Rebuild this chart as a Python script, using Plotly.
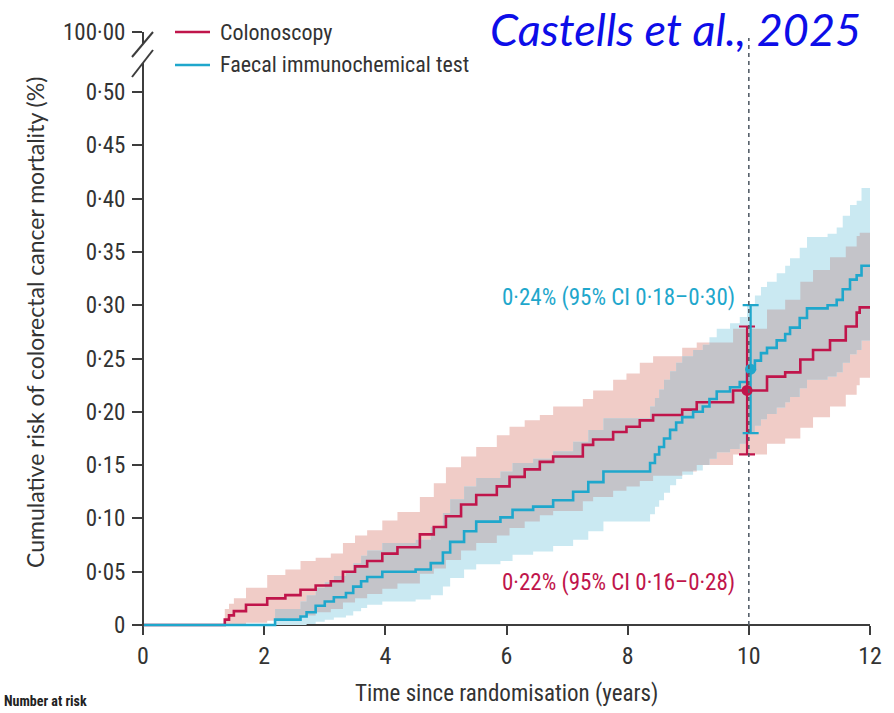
import numpy as np
import plotly.graph_objects as go

# ---- Kaplan-Meier style cumulative risk (%) by study arm ----
t_col = [0, 1.35, 1.42, 1.5, 1.7, 2.05, 2.35, 2.6, 2.85, 3.1, 3.3, 3.5, 3.7, 3.95, 4.2,
         4.57, 4.8, 5.0, 5.25, 5.5, 5.84, 6.05, 6.3, 6.55, 6.77, 7.26, 7.43, 7.76, 7.98,
         8.2, 8.42, 8.9, 9.14, 9.74, 10.3, 10.6, 10.85, 11.06, 11.34, 11.6, 11.78, 11.83, 12.0]
risk_col = [0, 0.005, 0.009, 0.013, 0.019, 0.025, 0.028, 0.033, 0.037, 0.041, 0.050, 0.055,
            0.060, 0.067, 0.073, 0.085, 0.092, 0.102, 0.113, 0.122, 0.130, 0.139, 0.146,
            0.153, 0.158, 0.169, 0.174, 0.181, 0.186, 0.192, 0.197, 0.202, 0.209, 0.220,
            0.233, 0.237, 0.249, 0.258, 0.267, 0.280, 0.293, 0.298, 0.298]
lo_col = [0, 0, 0, 0, 0.002, 0.004, 0.006, 0.009, 0.012, 0.015, 0.021, 0.025, 0.029, 0.034,
          0.039, 0.048, 0.053, 0.061, 0.070, 0.077, 0.084, 0.091, 0.097, 0.103, 0.107, 0.116,
          0.120, 0.126, 0.130, 0.135, 0.140, 0.144, 0.150, 0.160, 0.170, 0.175, 0.185, 0.195,
          0.205, 0.216, 0.225, 0.232, 0.232]
up_col = [0, 0.015, 0.020, 0.025, 0.035, 0.047, 0.052, 0.060, 0.063, 0.067, 0.077, 0.084,
          0.089, 0.098, 0.106, 0.120, 0.133, 0.148, 0.158, 0.167, 0.178, 0.186, 0.192, 0.197,
          0.205, 0.212, 0.220, 0.230, 0.236, 0.246, 0.252, 0.260, 0.265, 0.278, 0.296, 0.305,
          0.322, 0.333, 0.345, 0.355, 0.365, 0.368, 0.368]

t_fit = [0, 2.18, 2.6, 2.7, 2.85, 3.0, 3.15, 3.35, 3.47, 3.6, 3.7, 3.95, 4.5, 4.75, 4.95,
         5.07, 5.3, 5.5, 5.9, 6.1, 6.44, 6.77, 7.1, 7.35, 7.6, 8.37, 8.45, 8.52, 8.6, 8.7,
         8.8, 8.9, 9.08, 9.24, 9.35, 9.47, 9.69, 9.85, 9.97, 10.1, 10.2, 10.3, 10.46, 10.6,
         10.68, 10.84, 10.96, 11.3, 11.45, 11.55, 11.67, 11.78, 11.86, 12.0]
risk_fit = [0, 0.005, 0.008, 0.012, 0.018, 0.022, 0.026, 0.030, 0.036, 0.041, 0.045, 0.050,
            0.052, 0.058, 0.068, 0.078, 0.088, 0.097, 0.101, 0.108, 0.111, 0.117, 0.125,
            0.134, 0.144, 0.152, 0.160, 0.167, 0.175, 0.183, 0.190, 0.195, 0.200, 0.205,
            0.212, 0.219, 0.223, 0.228, 0.240, 0.248, 0.255, 0.260, 0.267, 0.273, 0.279,
            0.288, 0.297, 0.300, 0.305, 0.315, 0.324, 0.328, 0.337, 0.337]
lo_fit = [0, 0, 0, 0.001, 0.003, 0.005, 0.007, 0.009, 0.013, 0.016, 0.019, 0.022, 0.024,
          0.028, 0.036, 0.044, 0.052, 0.057, 0.060, 0.066, 0.069, 0.074, 0.080, 0.088,
          0.097, 0.104, 0.111, 0.117, 0.124, 0.131, 0.137, 0.141, 0.145, 0.150, 0.156,
          0.162, 0.165, 0.170, 0.180, 0.187, 0.193, 0.198, 0.204, 0.209, 0.214, 0.222,
          0.230, 0.233, 0.237, 0.246, 0.254, 0.258, 0.267, 0.267]
up_fit = [0, 0.015, 0.022, 0.028, 0.035, 0.040, 0.046, 0.051, 0.058, 0.065, 0.070, 0.077,
          0.080, 0.092, 0.105, 0.118, 0.130, 0.138, 0.144, 0.152, 0.156, 0.163, 0.172,
          0.183, 0.194, 0.205, 0.213, 0.221, 0.230, 0.238, 0.246, 0.252, 0.258, 0.263,
          0.270, 0.278, 0.283, 0.289, 0.300, 0.309, 0.317, 0.322, 0.330, 0.337, 0.344,
          0.354, 0.364, 0.367, 0.373, 0.384, 0.394, 0.398, 0.410, 0.410]

# 10-year estimates with 95% CI
t_est = 10
est_col, ci_col = 0.22, (0.16, 0.28)
est_fit, ci_fit = 0.24, (0.18, 0.30)

series_names = ["Colonoscopy", "Faecal immunochemical test"]
x_ticks = [0, 2, 4, 6, 8, 10, 12]
y_ticks = [0, 0.05, 0.10, 0.15, 0.20, 0.25, 0.30, 0.35, 0.40, 0.45, 0.50]
y_tick_text = ["0", "0·05", "0·10", "0·15", "0·20", "0·25", "0·30", "0·35", "0·40",
               "0·45", "0·50"]
broken_top_text = "100·00"

# ---- styling ----
RED = "#c0154b"
BLUE = "#1fa7cc"
PINK_BAND = "rgb(240,204,199)"
BLUE_BAND = "rgb(202,233,242)"
GREY_BAND = "rgb(196,196,201)"
AXIS = "#3d3d3d"
TEXT = "#333333"
NARROW = "Liberation Sans Narrow, Arial Narrow, Roboto Condensed, Roboto, sans-serif"

W, H = 894, 713
L, R, T, B = 143, 870, 32, 628      # plot area in pixels
Y0 = 625                            # pixel row of y = 0
PX_PER_UNIT = 1066.0
y_lo = -(B - Y0) / PX_PER_UNIT
y_hi = (Y0 - T) / PX_PER_UNIT


def px(xp):
    return (xp - L) / (R - L)


def py(yp):
    return (B - yp) / (B - T)


def step_eval(t_src, v_src, grid):
    idx = np.searchsorted(np.asarray(t_src), grid, side="right") - 1
    return np.asarray(v_src)[idx]


grid = np.union1d(t_col, t_fit)
lc, uc = step_eval(t_col, lo_col, grid), step_eval(t_col, up_col, grid)
lf, uf = step_eval(t_fit, lo_fit, grid), step_eval(t_fit, up_fit, grid)
ov_lo = np.maximum(lc, lf)
ov_up = np.minimum(uc, uf)
ov_up = np.where(ov_up > ov_lo, ov_up, ov_lo)

fig = go.Figure()


def band(x, lo, up, color):
    fig.add_trace(go.Scatter(x=x, y=lo, mode="lines", line=dict(width=0, shape="hv"),
                             hoverinfo="skip", showlegend=False))
    fig.add_trace(go.Scatter(x=x, y=up, mode="lines", line=dict(width=0, shape="hv"),
                             fill="tonexty", fillcolor=color, hoverinfo="skip",
                             showlegend=False))


band(grid, lc, uc, PINK_BAND)
band(grid, lf, uf, BLUE_BAND)
band(grid, ov_lo, ov_up, GREY_BAND)

fig.add_trace(go.Scatter(x=t_col, y=risk_col, mode="lines", name=series_names[0],
                         line=dict(color=RED, width=2.6, shape="hv"), showlegend=False))
fig.add_trace(go.Scatter(x=t_fit, y=risk_fit, mode="lines", name=series_names[1],
                         line=dict(color=BLUE, width=2.6, shape="hv"), showlegend=False))

# 10-year error bars and point estimates
for x_off, est, ci, col in [(-0.03, est_col, ci_col, RED), (0.03, est_fit, ci_fit, BLUE)]:
    fig.add_trace(go.Scatter(
        x=[t_est + x_off], y=[est], mode="markers",
        marker=dict(size=1, opacity=0), showlegend=False, cliponaxis=False,
        error_y=dict(type="data", symmetric=False, array=[ci[1] - est],
                     arrayminus=[est - ci[0]], color=col, thickness=2.2, width=8)))
for x_off, est, col in [(-0.03, est_col, RED), (0.03, est_fit, BLUE)]:
    fig.add_trace(go.Scatter(x=[t_est + x_off], y=[est], mode="markers",
                             marker=dict(size=11, color=col), showlegend=False,
                             cliponaxis=False))

shapes = []
# dashed reference line at 10 years
shapes.append(dict(type="line", xref="x", yref="paper", x0=t_est, x1=t_est,
                   y0=py(Y0), y1=py(38), line=dict(color="#56606a", width=1.6,
                                                   dash="4px,4px"), layer="above"))
# broken y axis
axis_line = dict(color=AXIS, width=2)
shapes.append(dict(type="line", xref="paper", yref="paper", x0=0, x1=0,
                   y0=py(Y0 + 1), y1=py(63), line=axis_line))
shapes.append(dict(type="line", xref="paper", yref="paper", x0=0, x1=0,
                   y0=py(44), y1=py(T), line=axis_line))
shapes.append(dict(type="line", xref="paper", yref="paper", x0=px(132), x1=px(153),
                   y0=py(57), y1=py(32), line=axis_line))
shapes.append(dict(type="line", xref="paper", yref="paper", x0=px(132), x1=px(153),
                   y0=py(77), y1=py(50), line=axis_line))
# legend keys
shapes.append(dict(type="line", xref="paper", yref="paper", x0=px(175), x1=px(210),
                   y0=py(32), y1=py(32), line=dict(color=RED, width=2.4)))
shapes.append(dict(type="line", xref="paper", yref="paper", x0=px(175), x1=px(210),
                   y0=py(65), y1=py(65), line=dict(color=BLUE, width=2.4)))

annotations = [
    dict(text=series_names[0], x=px(218), y=py(32), xanchor="left", yanchor="middle",
         font=dict(family=NARROW, size=22, color=TEXT)),
    dict(text=series_names[1], x=px(218), y=py(65), xanchor="left", yanchor="middle",
         font=dict(family=NARROW, size=22, color=TEXT)),
    dict(text="0·24% (95% CI 0·18–0·30)", x=px(500), y=py(297), xanchor="left",
         yanchor="middle", font=dict(family=NARROW, size=23, color=BLUE)),
    dict(text="0·22% (95% CI 0·16–0·28)", x=px(500), y=py(582), xanchor="left",
         yanchor="middle", font=dict(family=NARROW, size=23, color=RED)),
    dict(text="Time since randomisation (years)", x=px(506), y=py(693), xanchor="center",
         yanchor="middle", font=dict(family=NARROW, size=23, color=TEXT)),
    dict(text="Cumulative risk of colorectal cancer mortality (%)", x=px(35), y=py(323),
         xanchor="center", yanchor="middle", textangle=-90,
         font=dict(family="Lato, sans-serif", size=23, color=TEXT)),
    dict(text="Castells et al., 2025", x=px(863), y=py(29), xanchor="right",
         yanchor="middle",
         font=dict(family="Lato, sans-serif", size=45, color="#0d0de8", style="italic")),
    dict(text="<b>Number at risk</b>", x=px(2), y=py(711), xanchor="left",
         yanchor="bottom", font=dict(family=NARROW, size=14, color="#222222")),
]
for a in annotations:
    a.update(xref="paper", yref="paper", showarrow=False)

fig.update_layout(
    width=W, height=H,
    margin=dict(l=L, r=W - R, t=T, b=H - B, pad=0),
    paper_bgcolor="white", plot_bgcolor="white",
    shapes=shapes, annotations=annotations,
    xaxis=dict(range=[0, 12], tickvals=x_ticks, ticks="outside", ticklen=9, tickwidth=2,
               tickcolor=AXIS, showline=True, linecolor=AXIS, linewidth=2,
               showgrid=False, zeroline=False, anchor="free",
               position=(B - Y0) / (B - T), layer="below traces",
               tickfont=dict(family=NARROW, size=24, color=TEXT)),
    yaxis=dict(range=[y_lo, y_hi], tickvals=y_ticks + [y_hi],
               ticktext=y_tick_text + [broken_top_text], ticks="outside", ticklen=10,
               tickwidth=2, tickcolor=AXIS, showline=False, showgrid=False,
               zeroline=False, ticklabelstandoff=2,
               tickfont=dict(family=NARROW, size=23, color=TEXT)),
)

fig.write_html("out.html")
